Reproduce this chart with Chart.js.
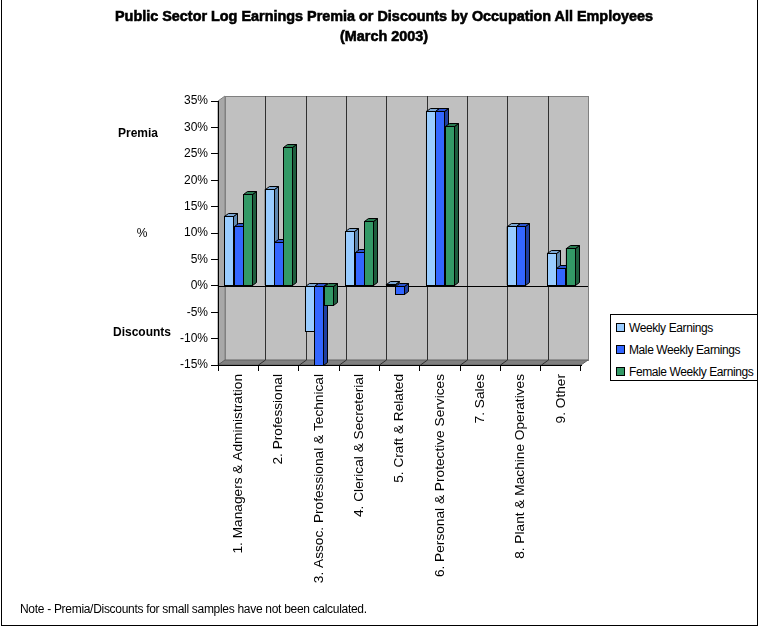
<!DOCTYPE html>
<html>
<head>
<meta charset="utf-8">
<script src="https://cdn.jsdelivr.net/npm/chart.js@4.4.0/dist/chart.umd.min.js"></script>
<style>
  body { margin: 0; background: #fff; }
  #wrap { position: relative; width: 758px; height: 627px; overflow: hidden; font-family: 'Liberation Sans', Arial, sans-serif; color: #000; }
  #frame { position: absolute; left: 1px; top: -2px; width: 757px; height: 628px; border: 1px solid #000; box-sizing: border-box; pointer-events: none; }
  canvas { position: absolute; left: 0; top: 0; }
  #title { position: absolute; left: 5px; top: 6px; width: 758px; text-align: center; font: bold 15px 'Liberation Sans', Arial, sans-serif; line-height: 20px; -webkit-text-stroke: 0.6px #000; transform: scaleX(0.96); transform-origin: 379px 0; }
  .lab { position: absolute; font-size: 12px; transform: translate(-50%, -50%); white-space: nowrap; }
  .bold { font-weight: bold; }
  #legend { position: absolute; left: 610px; top: 314px; width: 160px; height: 67px; border: 1px solid #000; box-sizing: border-box; background: #fff; font-size: 12px; letter-spacing: -0.4px; }
  #legend div { position: absolute; left: 5px; white-space: nowrap; }
  #legend span { display: inline-block; width: 7px; height: 7px; border: 1px solid #000; margin-right: 4px; vertical-align: 0px; }
  #note { position: absolute; left: 20px; top: 602px; font-size: 12px; white-space: nowrap; letter-spacing: -0.3px; }
</style>
</head>
<body>
<div id="wrap">
  <canvas id="chart" width="758" height="627"></canvas>
  <div id="title">Public Sector Log Earnings Premia or Discounts by Occupation All Employees<br>(March 2003)</div>
  <div class="lab bold" style="left:138px; top:133px;">Premia</div>
  <div class="lab" style="left:142px; top:233px;">%</div>
  <div class="lab bold" style="left:142px; top:332px;">Discounts</div>
  <div id="legend"></div>
  <div id="note">Note - Premia/Discounts for small samples have not been calculated.</div>
  <div id="frame"></div>
</div>
<script>
// occupations along the x axis
const categories = [
  "1. Managers & Administration",
  "2. Professional",
  "3. Assoc. Professional & Technical",
  "4. Clerical & Secreterial",
  "5. Craft & Related",
  "6. Personal & Protective Services",
  "7. Sales",
  "8. Plant & Machine Operatives",
  "9. Other"
];

// premia / discounts in percent (null = not calculated)
const weeklyEarnings = [13.3, 18.4, -8.6, 10.3, 0.3, 33.2, null, 11.3, 6.3];
const maleWeeklyEarnings = [11.4, 8.3, -15.0, 6.4, -1.6, 33.2, null, 11.3, 3.3];
const femaleWeeklyEarnings = [17.3, 26.2, -3.7, 12.3, null, 30.2, null, null, 7.2];

const seriesNames = ["Weekly Earnings", "Male Weekly Earnings", "Female Weekly Earnings"];
const seriesColors = ["#99ccff", "#3366ff", "#339966"];
const sideColors = ["#5f88b0", "#1f3fa0", "#1e5e3e"];
const topColors = ["#7aa6d4", "#2a52cc", "#287a50"];

const FONT = "'Liberation Sans', Arial, sans-serif";
const DX = 4, DY = 3;       // bar depth
const WX = 7, WY = 5;       // wall depth

// 3D back wall, floor and gridlines
const wallPlugin = {
  id: 'wall',
  beforeDraw(chart) {
    const { ctx, chartArea: a } = chart;
    ctx.save();
    // back wall
    ctx.fillStyle = '#c0c0c0';
    ctx.fillRect(a.left + WX, a.top - WY, a.right - a.left, a.bottom - a.top);
    ctx.strokeStyle = '#808080';
    ctx.lineWidth = 1;
    ctx.strokeRect(a.left + WX + 0.5, a.top - WY + 0.5, a.right - a.left, a.bottom - a.top);
    // left side wall
    ctx.fillStyle = '#a8a8a8';
    ctx.beginPath();
    ctx.moveTo(a.left, a.top);
    ctx.lineTo(a.left + WX, a.top - WY);
    ctx.lineTo(a.left + WX, a.bottom - WY);
    ctx.lineTo(a.left, a.bottom);
    ctx.closePath();
    ctx.fill();
    ctx.stroke();
    // floor
    ctx.fillStyle = '#808080';
    ctx.beginPath();
    ctx.moveTo(a.left, a.bottom);
    ctx.lineTo(a.left + WX, a.bottom - WY);
    ctx.lineTo(a.right + WX, a.bottom - WY);
    ctx.lineTo(a.right, a.bottom);
    ctx.closePath();
    ctx.fill();
    ctx.strokeStyle = '#606060';
    ctx.stroke();
    // category gridlines on the back wall
    const xs = chart.scales.x;
    const step = (a.right - a.left) / categories.length;
    ctx.strokeStyle = '#303030';
    for (let i = 1; i < categories.length; i++) {
      const bx = Math.round(xs.getPixelForValue(i) - step / 2 + WX) + 0.5;
      ctx.beginPath();
      ctx.moveTo(bx, a.top - WY);
      ctx.lineTo(bx, a.bottom - WY);
      ctx.stroke();
      ctx.beginPath();
      ctx.moveTo(bx, a.bottom - WY);
      ctx.lineTo(bx - WX, a.bottom);
      ctx.stroke();
    }
    ctx.restore();
  },
  beforeDatasetsDraw(chart) {
    const { ctx, chartArea: a } = chart;
    const y0 = Math.round(chart.scales.y.getPixelForValue(0)) + 0.5;
    ctx.save();
    ctx.strokeStyle = '#000';
    ctx.lineWidth = 1;
    ctx.beginPath();
    ctx.moveTo(a.left, y0);
    ctx.lineTo(a.right + WX, y0);
    ctx.stroke();
    ctx.restore();
  },
  afterDatasetsDraw(chart) {
    const { ctx } = chart;
    ctx.save();
    ctx.lineWidth = 1;
    ctx.strokeStyle = '#000';
    for (let d = 0; d < chart.data.datasets.length; d++) {
      const meta = chart.getDatasetMeta(d);
      meta.data.forEach((el, i) => {
        if (chart.data.datasets[d].data[i] == null) return;
        const p = el.getProps(['x', 'y', 'base', 'width'], true);
        const x0 = Math.round(p.x - p.width / 2) + 0.5;
        const x1 = Math.round(p.x + p.width / 2) + 0.5;
        const yt = Math.round(Math.min(p.y, p.base)) + 0.5;
        const yb = Math.round(Math.max(p.y, p.base)) + 0.5;
        // side
        ctx.fillStyle = sideColors[d];
        ctx.beginPath();
        ctx.moveTo(x1, yt); ctx.lineTo(x1 + DX, yt - DY); ctx.lineTo(x1 + DX, yb - DY); ctx.lineTo(x1, yb);
        ctx.closePath(); ctx.fill(); ctx.stroke();
        // top
        ctx.fillStyle = topColors[d];
        ctx.beginPath();
        ctx.moveTo(x0, yt); ctx.lineTo(x0 + DX, yt - DY); ctx.lineTo(x1 + DX, yt - DY); ctx.lineTo(x1, yt);
        ctx.closePath(); ctx.fill(); ctx.stroke();
        // front
        ctx.fillStyle = seriesColors[d];
        ctx.fillRect(x0, yt, x1 - x0, yb - yt);
        ctx.strokeRect(x0, yt, x1 - x0, yb - yt);
      });
    }
    ctx.restore();
  }
};

const seriesData = [weeklyEarnings, maleWeeklyEarnings, femaleWeeklyEarnings];

new Chart(document.getElementById('chart'), {
  type: 'bar',
  data: {
    labels: categories,
    datasets: seriesData.map((values, i) => ({
      label: seriesNames[i],
      data: values,
      backgroundColor: seriesColors[i],
      borderColor: '#000',
      borderWidth: 1,
      categoryPercentage: 0.7,
      barPercentage: 0.97
    }))
  },
  options: {
    responsive: false,
    animation: false,
    events: [],
    layout: { padding: { top: 101, right: 177, left: 0, bottom: 0 } },
    plugins: { legend: { display: false }, title: { display: false }, tooltip: { enabled: false } },
    scales: {
      x: {
        ticks: { minRotation: 90, maxRotation: 90, autoSkip: false, padding: 3, color: '#000', font: { family: FONT, size: 13.7 } },
        grid: { drawOnChartArea: false, tickLength: 6, tickColor: '#000', offset: true },
        border: { color: '#000' },
        afterFit: s => { s.height = 262; }
      },
      y: {
        min: -15, max: 35,
        ticks: { stepSize: 5, padding: 3, color: '#000', font: { family: FONT, size: 12 }, callback: v => v + '%' },
        grid: { drawOnChartArea: false, tickLength: 7, tickColor: '#000' },
        border: { color: '#000' },
        afterFit: s => { s.width = 218; }
      }
    }
  },
  plugins: [wallPlugin]
});

// legend
const legend = document.getElementById('legend');
seriesNames.forEach((name, i) => {
  const row = document.createElement('div');
  row.style.top = (6 + i * 22) + 'px';
  row.innerHTML = '<span style="background:' + seriesColors[i] + '"></span>' + name;
  legend.appendChild(row);
});
</script>
</body>
</html>
